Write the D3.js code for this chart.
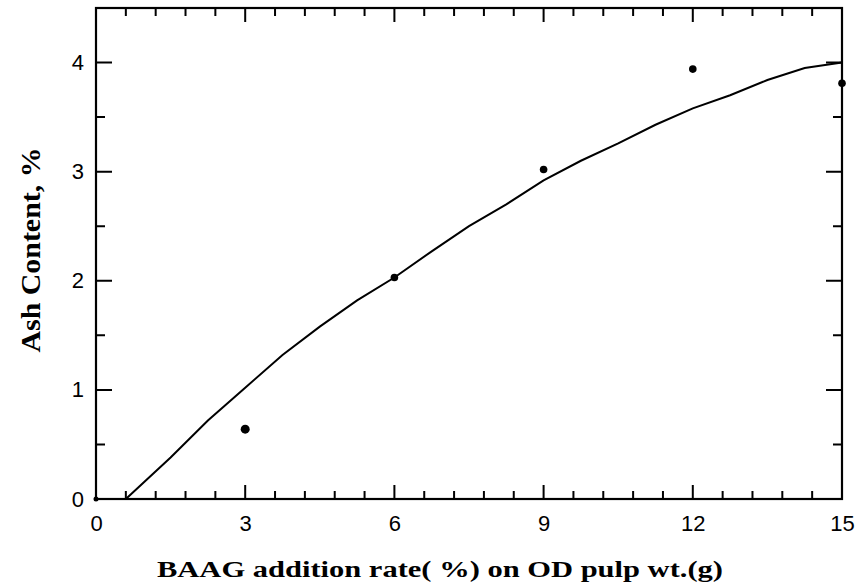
<!DOCTYPE html>
<html>
<head>
<meta charset="utf-8">
<script src="https://cdn.jsdelivr.net/npm/d3@7"></script>
<style>
  body { margin: 0; background: #fff; }
  svg { display: block; }
</style>
</head>
<body>
<div id="chart"></div>
<script>
// measured points
const pointX = [0, 3, 6, 9, 12, 15];
const pointY = [0, 0.64, 2.03, 3.02, 3.94, 3.81];

// fitted curve
const curveX = [0.6, 1.5, 2.25, 3, 3.75, 4.5, 5.25, 6, 6.75, 7.5, 8.25, 9, 9.75, 10.5, 11.25, 12, 12.75, 13.5, 14.25, 15];
const curveY = [0, 0.38, 0.72, 1.02, 1.32, 1.58, 1.82, 2.03, 2.27, 2.5, 2.7, 2.92, 3.1, 3.26, 3.43, 3.58, 3.7, 3.84, 3.95, 4.0];

const xTicks = [0, 3, 6, 9, 12, 15];
const yTicks = [0, 1, 2, 3, 4];

const xTitle = "BAAG addition rate( %) on OD pulp wt.(g)";
const yTitle = "Ash Content, %";

const W = 860, H = 587;
const mLeft = 96, mRight = 842, mTop = 8, mBottom = 499;

const svg = d3.select("#chart")
  .append("svg")
  .attr("width", W)
  .attr("height", H);

const x = d3.scaleLinear().domain([0, 15]).range([mLeft, mRight]);
const y = d3.scaleLinear().domain([0, 4.5]).range([mBottom, mTop]);

const xMinor = d3.range(0, 15.001, 0.6).filter(v => !xTicks.some(t => Math.abs(t - v) < 1e-6));
const yMinor = d3.range(0.5, 4.5, 1);

// labels from the d3 axes
const bottomAx = svg.append("g")
  .attr("transform", `translate(0,${mBottom})`)
  .call(d3.axisBottom(x).tickValues(xTicks).tickSize(0).tickPadding(16).tickFormat(d3.format("d")));
const leftAx = svg.append("g")
  .attr("transform", `translate(${mLeft},0)`)
  .call(d3.axisLeft(y).tickValues(yTicks).tickSize(0).tickPadding(12).tickFormat(d3.format("d")));

[bottomAx, leftAx].forEach(g => {
  g.select(".domain").remove();
  g.selectAll(".tick line").remove();
  g.selectAll(".tick text")
    .attr("fill", "#000")
    .style("font-family", "'Liberation Sans', Arial, sans-serif")
    .style("font-size", "22px");
});

// tick marks: inward, on all four sides, as one path
const tp = d3.path();
function xTickMarks(vals, len) {
  vals.forEach(v => {
    const px = x(v);
    tp.moveTo(px, mBottom); tp.lineTo(px, mBottom - len);
    tp.moveTo(px, mTop); tp.lineTo(px, mTop + len);
  });
}
function yTickMarks(vals, len) {
  vals.forEach(v => {
    const py = y(v);
    tp.moveTo(mLeft, py); tp.lineTo(mLeft + len, py);
    tp.moveTo(mRight, py); tp.lineTo(mRight - len, py);
  });
}
xTickMarks(xTicks, 14);
xTickMarks(xMinor, 8);
yTickMarks(yTicks, 16);
yTickMarks(yMinor, 9);

svg.append("path")
  .attr("class", "ticks")
  .attr("d", tp.toString())
  .attr("fill", "none")
  .attr("stroke", "#000")
  .attr("stroke-width", 2);

// frame
svg.append("rect")
  .attr("x", mLeft).attr("y", mTop)
  .attr("width", mRight - mLeft).attr("height", mBottom - mTop)
  .attr("fill", "none")
  .attr("stroke", "#000")
  .attr("stroke-width", 2.2);

// curve
const line = d3.line()
  .x((d, i) => x(curveX[i]))
  .y(d => y(d));

svg.append("path")
  .datum(curveY)
  .attr("d", line)
  .attr("fill", "none")
  .attr("stroke", "#000")
  .attr("stroke-width", 2);

// points
svg.append("g")
  .selectAll("circle")
  .data(pointY)
  .enter()
  .append("circle")
  .attr("cx", (d, i) => x(pointX[i]))
  .attr("cy", d => y(d))
  .attr("r", (d, i) => i === 0 ? 2.5 : (i === 1 ? 4.5 : 3.8))
  .attr("fill", "#000");

// axis titles
svg.append("text")
  .attr("x", 157)
  .attr("y", 577)
  .attr("textLength", 566)
  .attr("lengthAdjust", "spacingAndGlyphs")
  .style("font-family", "'Liberation Serif', 'Times New Roman', serif")
  .style("font-weight", "bold")
  .style("font-size", "23px")
  .text(xTitle);

svg.append("text")
  .attr("transform", "translate(40,250) rotate(-90)")
  .attr("text-anchor", "middle")
  .attr("textLength", 205)
  .attr("lengthAdjust", "spacingAndGlyphs")
  .style("font-family", "'Liberation Serif', 'Times New Roman', serif")
  .style("font-weight", "bold")
  .style("font-size", "28px")
  .text(yTitle);
</script>
</body>
</html>
